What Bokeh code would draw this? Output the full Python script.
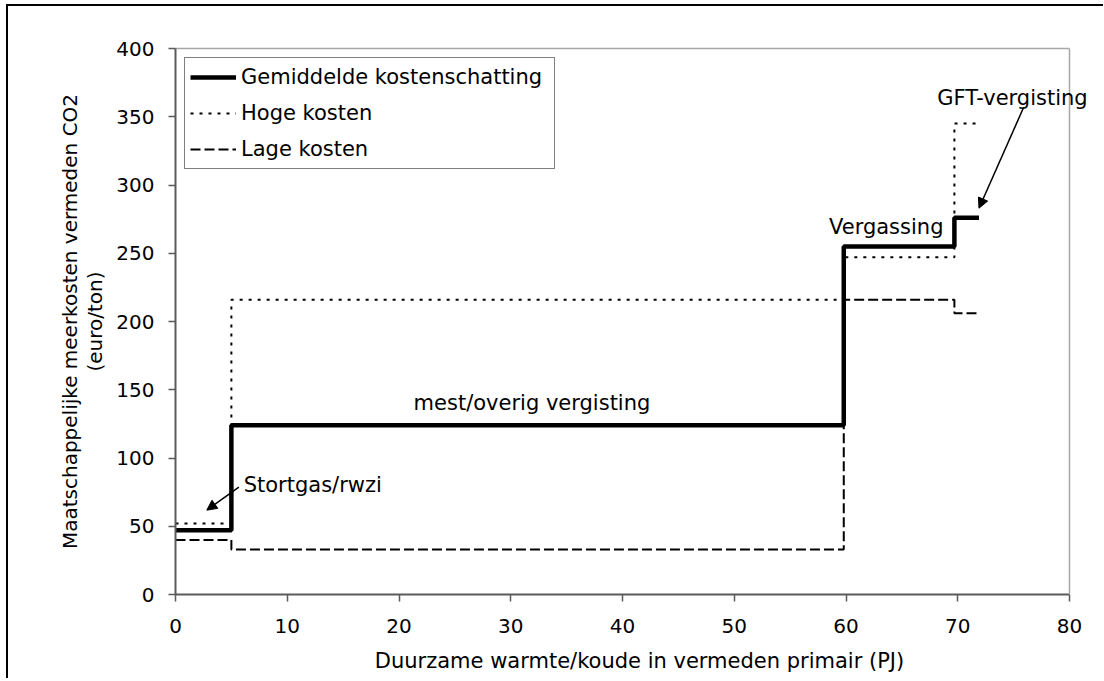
from bokeh.plotting import figure
from bokeh.models import (FixedTicker, Legend, LegendItem, Arrow, NormalHead, Label,
                          Range1d, LinearAxis, Span)
from bokeh.embed import file_html
from bokeh.resources import INLINE

# Data (step edges in PJ and cost levels in euro/ton)
edges = [0, 5, 59.8, 69.7, 71.9]
mean_cost = [47, 124, 255, 276]
high_cost = [52, 216, 247, 345]
low_cost = [40, 33, 216, 206]

x_ticks = [0, 10, 20, 30, 40, 50, 60, 70, 80]
y_ticks = [0, 50, 100, 150, 200, 250, 300, 350, 400]

series_names = ["Gemiddelde kostenschatting", "Hoge kosten", "Lage kosten"]
annotations = ["Stortgas/rwzi", "mest/overig vergisting", "Vergassing", "GFT-vergisting"]

FONT = "DejaVu Sans"
FS = "21px"
TICK_FS = "20px"
FRAME_COL = "#a6a6a6"
AXIS_COL = "#5a5a5a"

PLOT_W = 894      # pixels spanned by x = 0..80
EXTRA_W = 34      # room to the right of x = 80 (for the GFT label)
x_max = x_ticks[-1]
x_end = x_max * (PLOT_W + EXTRA_W) / PLOT_W

p = figure(
    frame_width=PLOT_W + EXTRA_W, frame_height=546,
    min_border_left=167, min_border_top=42, min_border_right=0, min_border_bottom=84,
    x_range=Range1d(0, x_end), y_range=Range1d(0, y_ticks[-1]),
    output_backend="svg", toolbar_location=None,
)
# Outer chart-area border: only its left and top edges fall inside the window
p.styles = {"position": "absolute", "left": "6px", "top": "4px",
            "border-style": "solid none none solid",
            "border-width": "2px 0px 0px 2px",
            "border-color": "black"}

p.grid.visible = False
p.outline_line_color = None
p.background_fill_color = "white"
p.border_fill_color = "white"

for ax in (p.xaxis[0], p.yaxis[0]):
    ax.axis_line_color = AXIS_COL
    ax.axis_line_width = 2
    ax.major_tick_line_color = AXIS_COL
    ax.major_tick_line_width = 1.5
    ax.major_tick_out = 7
    ax.major_tick_in = 0
    ax.minor_tick_line_color = None
    ax.major_label_text_font = FONT
    ax.major_label_text_font_size = TICK_FS
    ax.major_label_text_color = "black"
    ax.axis_label_text_font = FONT
    ax.axis_label_text_font_size = FS
    ax.axis_label_text_font_style = "normal"
    ax.axis_label_text_color = "black"

p.xaxis.bounds = (0, x_max)
p.yaxis.axis_label_text_font_size = "20px"
p.yaxis.axis_label_text_line_height = 1.05
p.xaxis.ticker = FixedTicker(ticks=x_ticks)
p.yaxis.ticker = FixedTicker(ticks=y_ticks)
p.xaxis.major_label_standoff = 17
p.yaxis.major_label_standoff = 14
p.xaxis.axis_label = "Duurzame warmte/koude in vermeden primair (PJ)"
p.yaxis.axis_label = "Maatschappelijke meerkosten vermeden CO2\n(euro/ton)"
p.xaxis.axis_label_standoff = 13
p.yaxis.axis_label_standoff = 6

# Plot-area frame: top edge (as a bare axis) and right edge at x = 80
top_axis = LinearAxis(bounds=(0, x_max), ticker=FixedTicker(ticks=[]),
                      axis_line_color=FRAME_COL, axis_line_width=1.5,
                      major_tick_line_color=None, minor_tick_line_color=None,
                      major_label_text_font_size="0px", major_label_standoff=0)
p.add_layout(top_axis, "above")
p.add_layout(Span(location=x_max, dimension="height", line_color=FRAME_COL, line_width=1.5))


def step_xy(e, v):
    return list(e), list(v) + [v[-1]]

xm, ym = step_xy(edges, mean_cost)
xh, yh = step_xy(edges, high_cost)
xl, yl = step_xy(edges, low_cost)

r_low = p.step(xl, yl, mode="after", line_color="black", line_width=2, line_dash="10 4")
r_high = p.step(xh, yh, mode="after", line_color="black", line_width=2, line_dash="3 6")
r_mean = p.step(xm, ym, mode="after", line_color="black", line_width=4.5)

legend = Legend(
    items=[LegendItem(label=series_names[0], renderers=[r_mean]),
           LegendItem(label=series_names[1], renderers=[r_high]),
           LegendItem(label=series_names[2], renderers=[r_low])],
    location="top_left",
    margin=9, padding=5, spacing=8,
    glyph_width=46, glyph_height=28, label_height=28, label_width=308,
    label_standoff=5,
    label_text_font=FONT, label_text_font_size=FS, label_text_color="black",
    border_line_color="black", border_line_width=1,
    background_fill_color="white", background_fill_alpha=1,
)
p.add_layout(legend)

# Annotations
lbl_kw = dict(text_font=FONT, text_font_size=FS, text_color="black")
p.add_layout(Label(x=6.1, y=80, text=annotations[0], text_baseline="middle", text_align="left", **lbl_kw))
p.add_layout(Label(x=31.9, y=140, text=annotations[1], text_baseline="middle", text_align="center", **lbl_kw))
p.add_layout(Label(x=63.6, y=269, text=annotations[2], text_baseline="middle", text_align="center", **lbl_kw))
p.add_layout(Label(x=74.9, y=364, text=annotations[3], text_baseline="middle", text_align="center", **lbl_kw))

p.add_layout(Arrow(x_start=5.67, y_start=78.7, x_end=2.8, y_end=61.8,
                   line_color="black", line_width=1.5,
                   end=NormalHead(size=10, fill_color="black", line_color="black")))
p.add_layout(Arrow(x_start=75.9, y_start=357, x_end=71.9, y_end=283,
                   line_color="black", line_width=1.5,
                   end=NormalHead(size=10, fill_color="black", line_color="black")))

open("out.html", "w").write(file_html(p, INLINE))
